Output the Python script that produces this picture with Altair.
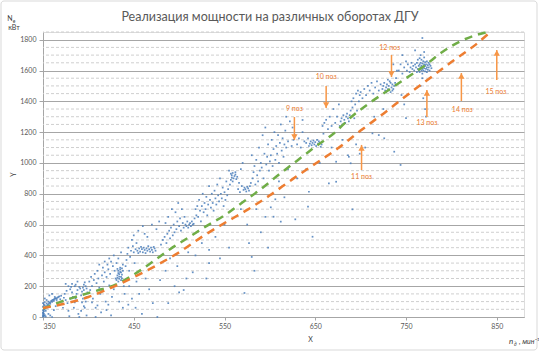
import altair as alt
import pandas as pd

# ---------------- data ----------------
pts_350_400 = [
    (350, 2), (350, 8), (350, 15), (351, 22), (350, 30), (351, 38), (350, 45), (352, 52), (351, 60), (350, 68),
    (352, 75), (351, 82), (350, 90), (352, 97), (351, 5), (352, 12), (353, 3), (350, 25), (351, 50), (353, 64),
    (354, 70), (355, 78), (356, 84), (354, 88), (357, 92), (358, 96), (356, 100), (359, 104), (360, 108), (361, 112),
    (362, 115), (360, 98), (363, 118), (364, 122), (365, 120), (366, 126), (367, 130), (365, 110), (368, 134), (362, 104),
    (358, 86), (355, 62), (353, 40), (356, 20), (358, 10), (360, 0), (362, 45), (364, 70), (366, 88), (369, 115),
    (370, 138), (357, 140), (360, 150), (363, 130), (354, 110), (352, 120),
    (371, 100), (373, 125), (374, 150), (376, 170), (377, 90), (378, 40), (379, 5), (380, 180), (381, 195), (382, 160),
    (383, 130), (384, 60), (385, 200), (386, 210), (387, 150), (388, 175), (389, 20), (390, 195), (391, 185), (392, 140),
    (393, 165), (394, 190), (395, 210), (395, 175), (396, 150), (394, 120), (393, 95), (395, 70), (396, 60), (397, 100),
    (398, 130), (397, 200), (396, 225), (398, 185), (399, 160), (372, 60), (375, 110), (380, 120), (385, 95), (388, 230),
    (390, 0), (375, 215), (378, 200), (382, 215), (386, 120), (392, 40), (398, 10),
]
pts_400_480 = [
    (401, 230), (402, 175), (403, 260), (404, 200), (405, 120), (406, 240), (407, 280), (408, 60), (409, 220), (410, 300),
    (411, 250), (412, 190), (413, 150), (414, 30), (415, 270), (416, 320), (417, 230), (418, 290), (419, 100), (420, 260),
    (421, 340), (422, 310), (423, 205), (424, 280), (425, 360), (426, 130), (427, 330), (428, 400), (429, 300), (430, 250),
    (404, 95), (410, 75), (415, 170), (420, 45), (425, 10), (428, 180), (412, 340), (418, 360), (423, 380), (408, 0), (422, 80),
    (431, 240), (432, 255), (432, 270), (433, 285), (433, 300), (434, 248), (434, 262), (434, 278), (435, 292), (435, 308),
    (436, 240), (436, 260), (436, 290), (437, 315), (437, 275), (438, 300), (433, 230), (435, 320), (432, 312), (437, 250),
    (431, 350), (433, 380), (436, 420), (438, 340), (439, 200), (440, 150), (438, 60), (434, 100),
    (441, 330), (442, 370), (443, 410), (444, 450), (445, 300), (446, 390), (447, 430), (448, 500), (449, 460), (450, 420),
    (451, 350), (452, 440), (453, 480), (454, 430), (455, 415), (456, 445), (457, 425), (458, 455), (459, 440), (460, 420),
    (461, 450), (462, 435), (463, 415), (464, 445), (465, 430), (466, 460), (467, 440), (468, 425), (469, 450), (470, 435),
    (471, 420), (472, 455), (473, 445), (474, 430), (450, 530), (455, 560), (460, 590), (465, 520), (470, 600), (475, 570),
    (478, 620), (462, 540), (445, 200), (448, 120), (452, 60), (456, 150), (459, 20), (463, 250), (467, 180), (471, 90),
    (476, 0), (479, 240), (444, 80), (453, 230),
]
pts_480_560 = [
    (480, 470), (482, 500), (484, 520), (485, 610), (486, 480), (487, 540), (488, 650), (489, 560), (490, 510), (491, 580),
    (492, 700), (493, 530), (494, 600), (495, 550), (496, 680), (497, 570), (498, 620), (499, 740), (500, 590), (501, 640),
    (502, 560), (503, 700), (504, 610), (505, 580), (506, 650), (507, 600), (508, 590), (509, 620), (510, 580), (511, 600),
    (512, 610), (513, 590), (514, 620), (515, 600), (516, 605), (517, 640), (518, 700), (519, 660), (520, 720), (485, 300),
    (490, 380), (495, 200), (500, 160), (505, 175), (510, 420), (515, 290), (518, 400), (488, 90), (498, 330), (508, 250),
    (521, 650), (522, 760), (523, 690), (524, 620), (525, 720), (526, 800), (527, 680), (528, 740), (529, 700), (530, 780),
    (531, 660), (532, 730), (533, 850), (534, 760), (535, 710), (536, 800), (537, 740), (538, 690), (539, 820), (540, 770),
    (541, 730), (542, 860), (543, 790), (544, 750), (545, 900), (546, 800), (547, 770), (548, 840), (549, 720), (550, 810),
    (551, 760), (552, 880), (553, 790), (554, 830), (555, 950), (556, 860), (557, 890), (558, 905), (558, 920), (559, 935),
    (560, 900), (561, 915), (562, 925), (563, 895), (564, 910), (557, 930), (559, 880), (562, 940), (533, 435), (533, 350),
    (525, 480), (540, 520), (550, 600), (545, 380), (530, 250), (555, 450),
]
pts_560_660 = [
    (565, 830), (566, 870), (567, 810), (568, 960), (569, 850), (570, 1000), (571, 825), (572, 840), (573, 830), (574, 815),
    (575, 845), (576, 835), (577, 820), (578, 850), (579, 870), (580, 1050), (581, 900), (582, 940), (583, 980), (584, 860),
    (585, 1020), (586, 920), (587, 880), (588, 1100), (589, 950), (590, 1000), (591, 970), (592, 1180), (593, 900), (594, 1060),
    (595, 1230), (596, 990), (597, 1040), (598, 1120), (599, 950), (600, 1010), (572, 156), (577, 480), (580, 390), (575, 600),
    (585, 700), (590, 550), (595, 650), (568, 700), (583, 300), (598, 450),
    (601, 1050), (602, 1150), (603, 980), (604, 1090), (605, 1200), (606, 1020), (607, 1110), (608, 1060), (609, 1180), (610, 1000),
    (611, 1130), (612, 1250), (613, 1080), (614, 1160), (615, 1040), (616, 1120), (617, 1210), (618, 1100), (620, 1140), (622, 1270),
    (624, 1110), (626, 1150), (628, 1180), (630, 1120), (632, 1160), (634, 1100), (636, 1200), (638, 1140), (640, 1130), (642, 1160),
    (643, 1110), (644, 1125), (645, 1140), (646, 1115), (647, 1130), (648, 1145), (649, 1120), (650, 1135), (651, 1110), (652, 1150),
    (653, 1125), (654, 1140), (655, 1130), (656, 1105), (657, 1120), (658, 1240), (659, 1190), (660, 1260), (606, 764), (616, 777),
    (601, 712), (604, 651), (612, 619), (628, 634), (642, 716), (647, 521), (643, 813), (636, 1279), (625, 1230), (618, 1300),
    (630, 900), (610, 880), (620, 960), (655, 1000), (640, 960),
]
pts_660_740 = [
    (662, 1280), (664, 1220), (666, 1300), (668, 1240), (670, 1350), (672, 1260), (674, 1300), (676, 1380), (677, 1240), (678, 1270),
    (679, 1290), (680, 1250), (681, 1310), (682, 1280), (683, 1260), (684, 1300), (685, 1320), (686, 1290), (687, 1270), (688, 1310),
    (689, 1340), (690, 1400), (691, 1360), (692, 1420), (693, 1290), (694, 1380), (695, 1450), (696, 1340), (697, 1470), (698, 1400),
    (699, 1440), (700, 1460), (665, 868), (673, 878), (687, 1040), (686, 1050), (689, 998), (673, 1008), (691, 699), (668, 1100),
    (680, 1150), (695, 1120), (699, 1060),
    (702, 1420), (704, 1480), (706, 1440), (708, 1500), (710, 1470), (712, 1520), (714, 1450), (716, 1490), (718, 1530), (720, 1470),
    (722, 1510), (724, 1480), (725, 1500), (726, 1520), (727, 1470), (728, 1490), (729, 1510), (730, 1480), (731, 1500), (732, 1530),
    (733, 1460), (734, 1490), (735, 1510), (736, 1480), (737, 1500), (738, 1520), (730, 1540), (733, 1520), (728, 1460), (735, 1470),
    (739, 1550), (740, 1600), (733, 1580), (736, 1640), (720, 1181), (726, 1160), (737, 1073), (713, 1192), (705, 1100), (715, 1300),
    (725, 1350),
]
pts_740_780 = [
    (742, 1600), (744, 1640), (746, 1580), (748, 1620), (750, 1660), (751, 1600), (752, 1640), (754, 1590), (755, 1620), (756, 1650),
    (757, 1610), (758, 1630), (759, 1600), (760, 1640), (761, 1620), (762, 1590), (762, 1650), (763, 1610), (763, 1670), (764, 1630),
    (764, 1600), (765, 1640), (765, 1590), (765, 1680), (766, 1620), (766, 1650), (767, 1600), (767, 1630), (767, 1670), (768, 1610),
    (768, 1645), (768, 1580), (769, 1625), (769, 1660), (769, 1600), (770, 1640), (770, 1615), (770, 1685), (771, 1595), (771, 1630),
    (771, 1655), (772, 1610), (772, 1640), (773, 1620), (773, 1660), (773, 1590), (774, 1635), (774, 1605), (775, 1650), (775, 1620),
    (776, 1640), (776, 1600), (777, 1630), (778, 1615), (766, 1700), (770, 1720), (768, 1811), (745, 1441), (748, 1380), (750, 1291),
    (744, 987), (766, 1500), (769, 1420), (771, 1350), (772, 1300), (768, 1550), (746, 1700), (760, 1730),
]

green_x = [350, 370, 390, 410, 430, 450, 470, 490, 510, 530, 550, 570, 590, 610, 630, 650, 670, 690, 710, 730, 750, 770, 790, 810, 830, 840]
green_y = [55, 100, 138, 172, 210, 275, 355, 440, 515, 590, 660, 745, 830, 925, 1015, 1105, 1190, 1300, 1390, 1470, 1550, 1630, 1720, 1790, 1835, 1850]
orange_x = [350, 375, 400, 425, 450, 475, 500, 525, 550, 575, 600, 625, 650, 675, 700, 725, 750, 775, 800, 825, 843]
orange_y = [58, 88, 130, 190, 258, 335, 420, 520, 610, 695, 790, 895, 995, 1095, 1210, 1320, 1435, 1545, 1655, 1760, 1850]

arrow_labels = ["9 поз", "10 поз", "11 поз", "12 поз", "13 поз", "14 поз", "15 поз"]
arrow_x = [627, 662, 701, 734, 773, 811, 850]
arrow_tail = [1298, 1500, 954, 1701, 1298, 1402, 1538]
arrow_head = [1149, 1357, 1117, 1558, 1474, 1584, 1733]
label_x = [627, 662, 701, 732, 773, 812, 849]
label_y = [1350, 1558, 909, 1746, 1259, 1344, 1461]

x_ticks = [350, 450, 550, 650, 750, 850]
y_major = [0, 200, 400, 600, 800, 1000, 1200, 1400, 1600, 1800]

title_text = "Реализация мощности на различных оборотах ДГУ"

# ---------------- tables ----------------
all_pts = pts_350_400 + pts_400_480 + pts_480_560 + pts_560_660 + pts_660_740 + pts_740_780
scatter_df = pd.DataFrame(all_pts, columns=["x", "y"])
green_df = pd.DataFrame({"x": green_x, "y": green_y})
orange_df = pd.DataFrame({"x": orange_x, "y": orange_y})
arrow_df = pd.DataFrame({
    "x": arrow_x, "tail": arrow_tail, "head": arrow_head,
    "lx": label_x, "ly": label_y, "label": arrow_labels,
    "dir": ["down" if h < t else "up" for h, t in zip(arrow_head, arrow_tail)],
})
minor_df = pd.DataFrame({"y": [v for v in range(50, 1851, 50) if v % 200 != 0]})

FONT = "Lato"
AX = "#595959"
xs = alt.Scale(domain=[350, 880], nice=False, zero=False)
ys = alt.Scale(domain=[0, 1850], nice=False)

x_axis = alt.Axis(
    values=x_ticks, tickCount=20, grid=False, labelFontSize=7, labelColor=AX, labelFont=FONT, format="d",
    labelOverlap=False, domainColor="#a6a6a6", tickColor="#a6a6a6", tickSize=3, labelPadding=2,
    title="X", titleFontSize=7, titleColor="#404040", titleFont=FONT, titleFontWeight="normal",
    titleX=267, titleY=22, titleBaseline="middle")
y_axis = alt.Axis(
    values=y_major, tickCount=20, grid=True, gridColor="#a6a6a6", gridWidth=1, format="d", labelOverlap=False,
    labelFontSize=7, labelColor=AX, labelFont=FONT, domainColor="#a6a6a6",
    tickColor="#a6a6a6", tickSize=4, labelPadding=3,
    title="Y", titleFontSize=7, titleColor="#404040", titleFont=FONT, titleFontWeight="normal",
    titleX=-30, titleY=142, titleAngle=-90, titleBaseline="middle")

minor = alt.Chart(minor_df).mark_rule(color="#cfcfcf", strokeDash=[3, 2], strokeWidth=1).encode(
    y=alt.Y("y:Q", scale=ys, axis=y_axis)
)

scatter = alt.Chart(scatter_df).mark_square(size=3, color="#4a7ebb", opacity=0.85).encode(
    x=alt.X("x:Q", scale=xs, axis=x_axis),
    y=alt.Y("y:Q", scale=ys, axis=y_axis),
)

green = alt.Chart(green_df).mark_line(color="#70ad47", strokeWidth=2.5, strokeDash=[8, 6], interpolate="monotone").encode(
    x=alt.X("x:Q", scale=xs), y=alt.Y("y:Q", scale=ys)
)
orange = alt.Chart(orange_df).mark_line(color="#ed7d31", strokeWidth=2.5, strokeDash=[8, 6], interpolate="monotone").encode(
    x=alt.X("x:Q", scale=xs), y=alt.Y("y:Q", scale=ys)
)

ARROW = "#f79646"
shafts = alt.Chart(arrow_df).mark_rule(color=ARROW, strokeWidth=1.5).encode(
    x=alt.X("x:Q", scale=xs), y=alt.Y("tail:Q", scale=ys), y2="head:Q"
)
heads_down = alt.Chart(arrow_df).transform_filter("datum.dir == 'down'").mark_point(
    shape="triangle-down", filled=True, color=ARROW, size=40, opacity=1, yOffset=-3
).encode(x=alt.X("x:Q", scale=xs), y=alt.Y("head:Q", scale=ys))
heads_up = alt.Chart(arrow_df).transform_filter("datum.dir == 'up'").mark_point(
    shape="triangle-up", filled=True, color=ARROW, size=40, opacity=1, yOffset=3
).encode(x=alt.X("x:Q", scale=xs), y=alt.Y("head:Q", scale=ys))
labels = alt.Chart(arrow_df).mark_text(color="#ed7d31", fontSize=7, font=FONT, baseline="middle", align="center").encode(
    x=alt.X("lx:Q", scale=xs), y=alt.Y("ly:Q", scale=ys), text="label:N"
)

def note(txt, x, y, size=7, color="#404040", style="normal", align="center", weight="normal"):
    return alt.Chart(pd.DataFrame({"t": [txt]})).mark_text(
        fontSize=size, color=color, font=FONT, fontStyle=style, align=align, baseline="middle", fontWeight=weight
    ).encode(text="t:N", x=alt.value(x), y=alt.value(y))

title = note(title_text, 227, -15, size=12.5, color="#595959")
n_label = note("N", -33, -13, size=7)
n_sub = note("е", -29, -11, size=5)
kvt = note("кВт", -29, -4, size=7)
nd_n = note("n", 466, 310, size=8, style="italic", align="left")
nd_sub = note("д", 471, 312, size=5, style="italic", align="left")
nd_rest = note(", мин⁻¹", 476, 310, size=7, style="italic", align="left")

frame = alt.Chart(pd.DataFrame({"a": [0]})).mark_rect(
    fill=None, stroke="#d9d9d9", strokeWidth=1, cornerRadius=3
).encode(x=alt.value(-42), x2=alt.value(494), y=alt.value(-31), y2=alt.value(318))

chart = alt.layer(
    minor, scatter, green, orange, shafts, heads_down, heads_up, labels,
    frame, title, n_label, n_sub, kvt, nd_n, nd_sub, nd_rest
).properties(
    width=481, height=285,
    autosize=alt.AutoSizeParams(type="none"),
    padding={"left": 43, "top": 32, "right": 15, "bottom": 35},
).configure_view(stroke=None).configure(background="white")

chart.save("out.html", embed_options={"renderer": "svg", "actions": False})
